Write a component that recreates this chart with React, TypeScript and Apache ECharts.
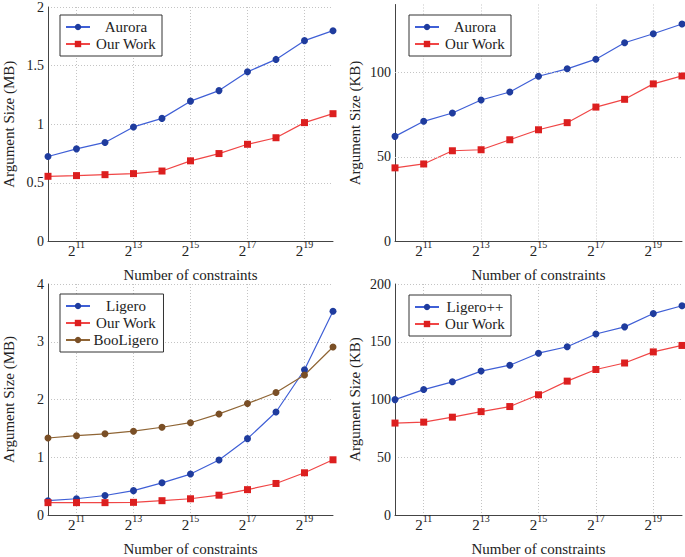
import React, { useEffect, useRef } from "react";
import * as echarts from "echarts";

const exponents = ["10", "11", "12", "13", "14", "15", "16", "17", "18", "19", "20"];

const auroraMB = [0.725, 0.79, 0.845, 0.977, 1.05, 1.197, 1.287, 1.447, 1.553, 1.713, 1.798];
const ourWorkMB1 = [0.556, 0.562, 0.57, 0.579, 0.601, 0.688, 0.75, 0.829, 0.885, 1.014, 1.09];

const auroraKB = [62.1, 71.0, 75.9, 83.6, 88.3, 97.6, 102.0, 107.7, 117.4, 122.7, 128.5];
const ourWorkKB1 = [43.5, 45.8, 53.6, 54.2, 60.1, 66.0, 70.2, 79.4, 84.0, 93.1, 97.8];

const ligeroMB = [0.248, 0.281, 0.338, 0.422, 0.557, 0.709, 0.951, 1.322, 1.783, 2.515, 3.527];
const ourWorkMB2 = [0.214, 0.214, 0.214, 0.219, 0.248, 0.281, 0.343, 0.439, 0.546, 0.731, 0.956];
const booLigeroMB = [1.333, 1.373, 1.406, 1.451, 1.519, 1.598, 1.75, 1.93, 2.121, 2.425, 2.909];

const ligeroPPKB = [99.9, 108.6, 115.3, 124.6, 129.7, 140.1, 145.7, 156.7, 162.9, 174.4, 181.2];
const ourWorkKB2 = [79.6, 80.4, 84.7, 89.5, 93.9, 104.1, 115.9, 126.0, 131.6, 141.2, 146.8];

const kbGridValues = [50, 100];

const FONT = "Liberation Serif";
const TEXT = "#222";
const GRIDC = "#c4c4c4";

const BLUE_LINE = "#3f5fd6";
const BLUE_MARK = "#1f3c9e";
const RED_LINE = "#f04646";
const RED_MARK = "#dc1f1f";
const BROWN_LINE = "#8f6535";
const BROWN_MARK = "#7a4f26";

const oddIdx = (i: number) => i % 2 === 1;

function xAxis(gridIndex: number) {
  return {
    type: "category",
    gridIndex,
    data: exponents,
    boundaryGap: false,
    name: "Number of constraints",
    nameLocation: "middle",
    nameGap: 26,
    nameTextStyle: { fontFamily: FONT, fontSize: 15, color: TEXT, verticalAlign: "top" },
    axisLine: { show: true, lineStyle: { color: "#444", width: 1 } },
    axisTick: { show: false },
    axisLabel: {
      interval: oddIdx,
      margin: 2,
      formatter: (v: string) => `{b|2}{s|${v}}`,
      rich: {
        b: { fontFamily: FONT, fontSize: 15, lineHeight: 15, color: TEXT, verticalAlign: "bottom" },
        s: { fontFamily: FONT, fontSize: 10, lineHeight: 10, color: TEXT, verticalAlign: "bottom", padding: [0, 0, 9, 0] },
      },
    },
    splitLine: { show: true, interval: oddIdx, lineStyle: { color: GRIDC, type: [1, 2], width: 1 } },
  };
}

function yAxis(gridIndex: number, name: string, max: number, interval: number, gap: number, split = true) {
  return {
    type: "value",
    gridIndex,
    min: 0,
    max,
    interval,
    name,
    nameLocation: "middle",
    nameGap: gap,
    nameTextStyle: { fontFamily: FONT, fontSize: 15, color: TEXT },
    axisLine: { show: true, lineStyle: { color: "#444", width: 1 } },
    axisTick: { show: false },
    axisLabel: { fontFamily: FONT, fontSize: 14, color: TEXT, margin: 4, showMaxLabel: split },
    splitLine: { show: split, lineStyle: { color: GRIDC, type: [1, 2], width: 1 } },
  };
}

function line(name: string, data: number[], idx: number, lineColor: string, markColor: string, symbol: string) {
  return {
    type: "line",
    name,
    data,
    xAxisIndex: idx,
    yAxisIndex: idx,
    symbol,
    symbolSize: 7,
    lineStyle: { color: lineColor, width: 1.2 },
    itemStyle: { color: markColor },
    z: 3,
  };
}

function legend(data: string[], left: number, top: number) {
  return {
    data,
    left,
    top,
    orient: "vertical",
    itemWidth: 24,
    itemHeight: 8,
    itemGap: 2,
    padding: [4.5, 5, 4.5, 5],
    borderColor: "#333",
    borderWidth: 1,
    backgroundColor: "#fff",
    selectedMode: false,
    formatter: (n: string) => `{c|${n}}`,
    textStyle: {
      fontFamily: FONT,
      fontSize: 15,
      color: TEXT,
      rich: { c: { width: 62, align: "center", fontFamily: FONT, fontSize: 15, lineHeight: 15, color: TEXT } },
    },
  };
}

export default function App() {
  const ref = useRef<HTMLDivElement>(null);
  useEffect(() => {
    if (!ref.current) return;
    const chart = echarts.init(ref.current, null, { renderer: "svg" });
    const W = 287;
    const H = 237;
    chart.setOption({
      animation: false,
      backgroundColor: "#fff",
      grid: [
        { left: 46, top: 4.5, width: W, height: H },
        { left: 395, top: 4.5, width: W, height: H },
        { left: 46, top: 284, width: W, height: H },
        { left: 395, top: 284, width: W, height: H },
      ],
      xAxis: [xAxis(0), xAxis(1), xAxis(2), xAxis(3)],
      yAxis: [
        yAxis(0, "Argument Size (MB)", 2, 0.5, 32),
        yAxis(1, "Argument Size (KB)", 140, 50, 33, false),
        yAxis(2, "Argument Size (MB)", 4, 1, 32),
        yAxis(3, "Argument Size (KB)", 200, 50, 33),
      ],
      legend: [
        legend(["Aurora", "Our Work"], 60, 15),
        legend(["Aurora", "Our Work"], 409, 15),
        legend(["Ligero", "Our Work", "BooLigero"], 60, 294),
        legend(["Ligero++", "Our Work"], 409, 295),
      ],
      series: [
        {
          type: "line",
          name: "kb-grid",
          data: [],
          xAxisIndex: 1,
          yAxisIndex: 1,
          z: 1,
          markLine: {
            silent: true,
            symbol: "none",
            label: { show: false },
            lineStyle: { color: GRIDC, type: [1, 2], width: 1 },
            data: kbGridValues.map((v) => ({ yAxis: v })),
          },
        },
        line("Aurora", auroraMB, 0, BLUE_LINE, BLUE_MARK, "circle"),
        line("Our Work", ourWorkMB1, 0, RED_LINE, RED_MARK, "rect"),
        line("Aurora", auroraKB, 1, BLUE_LINE, BLUE_MARK, "circle"),
        line("Our Work", ourWorkKB1, 1, RED_LINE, RED_MARK, "rect"),
        line("Ligero", ligeroMB, 2, BLUE_LINE, BLUE_MARK, "circle"),
        line("Our Work", ourWorkMB2, 2, RED_LINE, RED_MARK, "rect"),
        line("BooLigero", booLigeroMB, 2, BROWN_LINE, BROWN_MARK, "circle"),
        line("Ligero++", ligeroPPKB, 3, BLUE_LINE, BLUE_MARK, "circle"),
        line("Our Work", ourWorkKB2, 3, RED_LINE, RED_MARK, "rect"),
      ],
    });
    return () => chart.dispose();
  }, []);
  return (
    <div
      ref={ref}
      style={{ position: "fixed", left: 0, top: 0, width: 685, height: 557, background: "#fff" }}
    />
  );
}
